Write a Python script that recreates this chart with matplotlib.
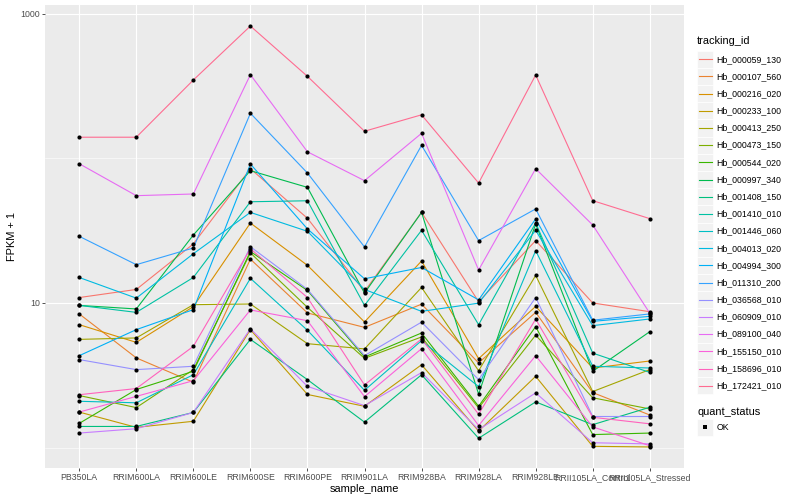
import numpy as np
import matplotlib
matplotlib.use("Agg")
from matplotlib import pyplot as plt
from matplotlib.patches import Rectangle
from matplotlib.lines import Line2D
from matplotlib.ticker import FixedLocator, NullFormatter

plt.rcParams['font.family'] = ['Liberation Sans', 'DejaVu Sans']

"""
Data : FPKM + 1 per gene and per sample (read off the picture)
"""
sample_name = ["PB350LA", "RRIM600LA", "RRIM600LE", "RRIM600SE", "RRIM600PE",
               "RRIM901LA", "RRIM928BA", "RRIM928LA", "RRIM928LE",
               "RRII105LA_Control", "RRII105LA_Stressed"]

tracking_id = ["Hb_000059_130", "Hb_000107_560", "Hb_000216_020", "Hb_000233_100",
               "Hb_000413_250", "Hb_000473_150", "Hb_000544_020", "Hb_000997_340",
               "Hb_001408_150", "Hb_001410_010", "Hb_001446_060", "Hb_004013_020",
               "Hb_004994_300", "Hb_011310_200", "Hb_036568_010", "Hb_060909_010",
               "Hb_089100_040", "Hb_155150_010", "Hb_158696_010", "Hb_172421_010"]

# ggplot default hue palette, 20 levels
hue_colors = ["#F8766D", "#EA8331", "#D89000", "#C09B00", "#A3A500", "#7CAE00",
              "#39B600", "#00BB4E", "#00BF7D", "#00C1A3", "#00BFC4", "#00BAE0",
              "#00B0F6", "#35A2FF", "#9590FF", "#C77CFF", "#E76BF3", "#FA62DB",
              "#FF62BC", "#FF6C91"]

hb_000059_130 = [10.9, 12.4, 25.6, 84.8, 38.5, 12.0, 42.3, 10.2, 27.0, 10.0, 8.7]
hb_000107_560 = [8.4, 4.17, 2.83, 20.1, 8.53, 6.78, 9.81, 3.85, 8.61, 2.40, 1.68]
hb_000216_020 = [7.08, 5.34, 9.43, 35.7, 18.2, 7.39, 19.5, 4.12, 9.47, 3.55, 3.97]
hb_000233_100 = [1.76, 1.38, 1.52, 6.54, 2.33, 1.93, 3.74, 1.30, 3.11, 1.02, 1.01]
hb_000413_250 = [5.60, 5.73, 9.73, 9.84, 5.23, 4.81, 12.8, 3.40, 15.5, 2.44, 3.46]
hb_000473_150 = [2.29, 1.89, 3.46, 22.2, 9.32, 4.14, 5.82, 1.88, 5.99, 2.21, 1.85]
hb_000544_020 = [1.47, 2.52, 3.37, 22.7, 12.2, 4.23, 6.20, 1.93, 6.86, 1.23, 1.26]
hb_000997_340 = [9.62, 9.09, 29.5, 82.2, 63.0, 11.7, 42.3, 2.34, 35.2, 3.37, 6.33]
hb_001408_150 = [1.40, 1.40, 1.75, 5.60, 2.95, 1.50, 3.19, 1.16, 2.07, 1.44, 1.90]
hb_001410_010 = [9.62, 8.61, 15.0, 50.1, 50.9, 9.62, 31.8, 7.08, 35.7, 4.50, 3.31]
hb_001446_060 = [2.09, 2.04, 3.19, 14.8, 6.47, 2.49, 5.49, 2.64, 23.0, 3.65, 3.55]
hb_004013_020 = [15.0, 10.8, 21.9, 42.3, 31.3, 12.4, 8.75, 9.97, 31.8, 6.97, 7.75]
hb_004994_300 = [4.32, 6.54, 8.99, 91.4, 32.5, 14.7, 17.6, 10.5, 38.1, 7.46, 8.08]
hb_011310_200 = [28.9, 18.4, 24.0, 205, 79.2, 24.4, 123, 27.0, 44.7, 7.6, 8.4]
hb_036568_010 = [4.06, 3.46, 3.65, 24.5, 12.4, 4.32, 7.37, 2.95, 10.9, 1.64, 1.64]
hb_060909_010 = [1.26, 1.35, 1.75, 6.64, 2.65, 1.95, 3.30, 1.33, 2.39, 1.08, 1.06]
hb_089100_040 = [91.8, 55.2, 56.7, 379, 111, 70.1, 149, 16.9, 84.8, 34.6, 8.5]
hb_155150_010 = [1.76, 2.26, 2.90, 8.95, 7.54, 2.25, 4.83, 1.42, 4.32, 1.39, 1.03]
hb_158696_010 = [2.32, 2.56, 5.01, 23.7, 10.9, 2.71, 5.64, 1.70, 7.73, 1.62, 1.46]
hb_172421_010 = [140, 140, 348, 822, 369, 154, 200, 67.5, 377, 51, 38.3]

fpkm = [hb_000059_130, hb_000107_560, hb_000216_020, hb_000233_100, hb_000413_250,
        hb_000473_150, hb_000544_020, hb_000997_340, hb_001408_150, hb_001410_010,
        hb_001446_060, hb_004013_020, hb_004994_300, hb_011310_200, hb_036568_010,
        hb_060909_010, hb_089100_040, hb_155150_010, hb_158696_010, hb_172421_010]

"""
Plotting
"""
W, H = 800, 500
fig = plt.figure(figsize=(W / 100, H / 100), dpi=100)

def fx(px):
    return px / W

def fy(py):
    return 1 - py / H

# panel in pixels : left 45, right 684, top 5, bottom 468
ax = fig.add_axes([fx(45), fy(468), (684 - 45) / W, (468 - 5) / H])
ax.set_facecolor('#EBEBEB')
for s in ax.spines.values():
    s.set_visible(False)

x = np.arange(len(sample_name))
for vals, col in zip(fpkm, hue_colors):
    ax.plot(x, vals, color=col, lw=0.8, zorder=2)
for vals in fpkm:
    ax.plot(x, vals, 'o', color='black', ms=3.0, mew=0, zorder=3)

ax.set_yscale('log')
lo = np.log10(min(min(v) for v in fpkm))
hi = np.log10(max(max(v) for v in fpkm))
pad = 0.05 * (hi - lo)
ax.set_ylim(10 ** (lo - pad), 10 ** (hi + pad))
ax.set_xlim(-0.6, len(sample_name) - 0.4)

ax.yaxis.set_major_locator(FixedLocator([10, 1000]))
ax.set_yticklabels(['10', '1000'])
ax.yaxis.set_minor_locator(FixedLocator([1, 100]))
ax.yaxis.set_minor_formatter(NullFormatter())
ax.set_xticks(x)
ax.set_xticklabels(sample_name)

ax.grid(which='major', color='white', lw=0.8)
ax.grid(which='minor', axis='y', color='white', lw=0.4)
ax.set_axisbelow(True)
ax.tick_params(which='major', length=2, width=0.6, color='#333333',
               labelcolor='#4D4D4D', labelsize=6.3, pad=1.6)
ax.tick_params(which='minor', length=0)

ax.set_ylabel('FPKM + 1', fontsize=7.9)
ax.yaxis.set_label_coords((17 - 45) / 639, 0.5)
ax.set_xlabel('sample_name', fontsize=7.9)
ax.xaxis.set_label_coords(0.5, -16 / 463)

# legend drawn by hand, ggplot style
key_l, key_w, step = 697.3, 15.8, 17.18
fig.text(fx(697), fy(40.7), 'tracking_id', fontsize=7.9, va='center', ha='left')
for i, (name, col) in enumerate(zip(tracking_id, hue_colors)):
    yc = 59.3 + step * i
    fig.add_artist(Rectangle((fx(key_l), fy(yc + step / 2)), key_w / W, step / H,
                             facecolor='#F2F2F2', edgecolor='white', lw=0.5,
                             transform=fig.transFigure))
    fig.add_artist(Line2D([fx(key_l + 1.5), fx(key_l + key_w - 1.5)], [fy(yc), fy(yc)],
                          color=col, lw=0.8, transform=fig.transFigure))
    fig.text(fx(716.7), fy(yc), name, fontsize=6.3, va='center', ha='left')

fig.text(fx(697), fy(411.7), 'quant_status', fontsize=7.9, va='center', ha='left')
yc = 427.3
fig.add_artist(Rectangle((fx(key_l), fy(yc + step / 2)), key_w / W, step / H,
                         facecolor='#F2F2F2', edgecolor='white', lw=0.5,
                         transform=fig.transFigure))
fig.add_artist(Line2D([fx(key_l + key_w / 2)], [fy(yc)], marker='s', color='black',
                      ms=2.6, mew=0, transform=fig.transFigure))
fig.text(fx(716.7), fy(yc), 'OK', fontsize=6.3, va='center', ha='left')

fig.savefig('out.png', dpi=100)
